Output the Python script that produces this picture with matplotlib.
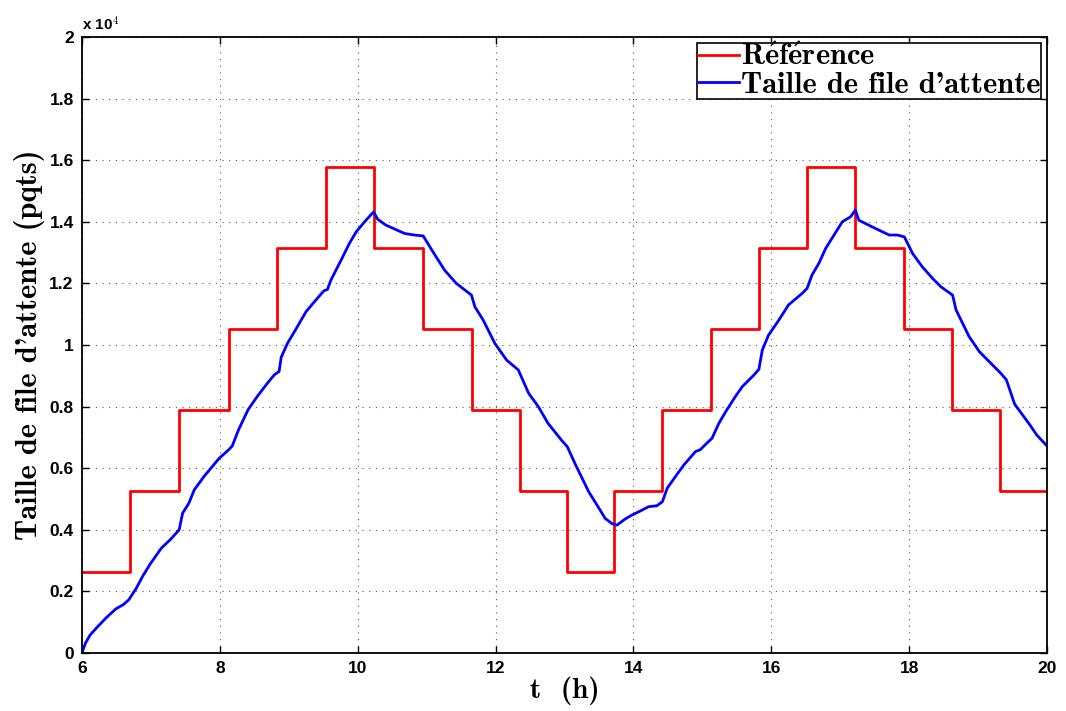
import matplotlib.pyplot as plt
from matplotlib.ticker import FuncFormatter

plt.rcParams['mathtext.fontset'] = 'cm'

# Reference (step) : switching times and levels (pqts)
ref_t = [6.0, 6.70, 7.41, 8.13, 8.835, 9.54, 10.24, 10.95, 11.66, 12.35, 13.03,
         13.72, 14.42, 15.12, 15.82, 16.52, 17.21, 17.92, 18.62, 19.32, 20.0]
ref_q = [2630, 5260, 7890, 10520, 13150, 15780, 13150, 10520, 7890, 5260, 2630,
         5260, 7890, 10520, 13150, 15780, 13150, 10520, 7890, 5260, 5260]

# Queue size (units of 1e4 pqts)
q_t = [6.0, 6.05, 6.12, 6.23, 6.35, 6.49, 6.60, 6.68, 6.79, 6.88, 6.99, 7.15, 7.29,
       7.41, 7.46, 7.55, 7.63, 7.77, 7.99, 8.13, 8.18, 8.27, 8.41, 8.54, 8.69, 8.79,
       8.86, 8.89, 8.98, 9.10, 9.25, 9.37, 9.51, 9.56, 9.61, 9.76, 9.88, 9.98, 10.10,
       10.23, 10.29, 10.41, 10.55, 10.68, 10.82, 10.95, 11.09, 11.26, 11.43, 11.65,
       11.70, 11.82, 11.99, 12.16, 12.33, 12.48, 12.62, 12.76, 12.96, 13.04, 13.15,
       13.35, 13.50, 13.59, 13.69, 13.76, 13.88, 13.98, 14.10, 14.22, 14.34, 14.42,
       14.49, 14.61, 14.73, 14.90, 14.97, 15.05, 15.14, 15.24, 15.34, 15.48, 15.58,
       15.75, 15.82, 15.87, 15.96, 16.11, 16.25, 16.45, 16.52, 16.59, 16.69, 16.79,
       16.91, 17.03, 17.15, 17.22, 17.27, 17.44, 17.56, 17.71, 17.83, 17.93, 18.05,
       18.19, 18.34, 18.46, 18.63, 18.68, 18.87, 19.02, 19.21, 19.33, 19.41, 19.53,
       19.75, 19.85, 20.0]
q_v = [0.0, 0.032, 0.059, 0.086, 0.114, 0.143, 0.157, 0.173, 0.211, 0.249, 0.289,
       0.34, 0.37, 0.40, 0.454, 0.486, 0.53, 0.573, 0.632, 0.66, 0.672, 0.724, 0.79,
       0.832, 0.876, 0.903, 0.914, 0.96, 1.005, 1.05, 1.108, 1.14, 1.176, 1.18, 1.21,
       1.276, 1.33, 1.368, 1.40, 1.432, 1.408, 1.389, 1.375, 1.362, 1.357, 1.354,
       1.303, 1.243, 1.20, 1.162, 1.124, 1.081, 1.005, 0.951, 0.919, 0.843, 0.80,
       0.746, 0.69, 0.67, 0.616, 0.524, 0.47, 0.437, 0.42, 0.415, 0.435, 0.448,
       0.461, 0.475, 0.478, 0.491, 0.535, 0.573, 0.61, 0.654, 0.66, 0.678, 0.697,
       0.746, 0.784, 0.833, 0.865, 0.903, 0.921, 0.984, 1.032, 1.081, 1.13, 1.168,
       1.184, 1.227, 1.265, 1.314, 1.357, 1.40, 1.416, 1.438, 1.405, 1.386, 1.373,
       1.357, 1.357, 1.351, 1.297, 1.254, 1.216, 1.189, 1.162, 1.114, 1.027, 0.978,
       0.935, 0.908, 0.887, 0.808, 0.741, 0.708, 0.672]
q_v = [v * 1e4 for v in q_v]

fig = plt.figure(figsize=(10.66, 7.11), dpi=100)
ax = fig.add_axes([0.0769, 0.0816, 0.9053, 0.8664])

ax.step(ref_t, ref_q, where='post', color='red', lw=2,
        label=r'$\mathbf{R\acute{e}f\acute{e}rence}$')
ax.plot(q_t, q_v, color='blue', lw=2, label="Taille de file d'attente")

ax.set_xlim(6, 20)
ax.set_ylim(0, 2e4)
ax.set_xticks(range(6, 21, 2))
ax.set_yticks([i * 2000 for i in range(11)])
ax.yaxis.set_major_formatter(FuncFormatter(lambda v, p: '%g' % (v / 1e4)))
ax.grid(True, linestyle=(0, (1, 5)), color='#555555', lw=0.8)
ax.tick_params(direction='in', top=True, right=True, length=5, width=1, pad=6)
for lab in ax.get_xticklabels() + ax.get_yticklabels():
    lab.set_fontfamily('Liberation Sans')
    lab.set_fontweight('bold')
    lab.set_fontsize(12.5)
for s in ax.spines.values():
    s.set_linewidth(1.3)

ax.text(0.0, 1.005, r'x 10$^{\mathbf{4}}$', transform=ax.transAxes, fontsize=11,
        fontweight='bold', family='Liberation Sans', va='bottom')

serif = ['cmb10', 'DejaVu Serif']
ax.set_xlabel('t  (h)', fontsize=21, family=serif, labelpad=0)
ax.set_ylabel("Taille de file d'attente (pqts)", fontsize=22, family=serif,
              labelpad=3)

leg = ax.legend(loc='upper right', prop={'family': serif, 'size': 22},
                fancybox=False, edgecolor='black', framealpha=1,
                borderpad=0.02, labelspacing=0.0, handlelength=1.35,
                handletextpad=0.05, borderaxespad=0.2)
leg.get_frame().set_linewidth(1.2)

fig.savefig('out.png', dpi=100)
